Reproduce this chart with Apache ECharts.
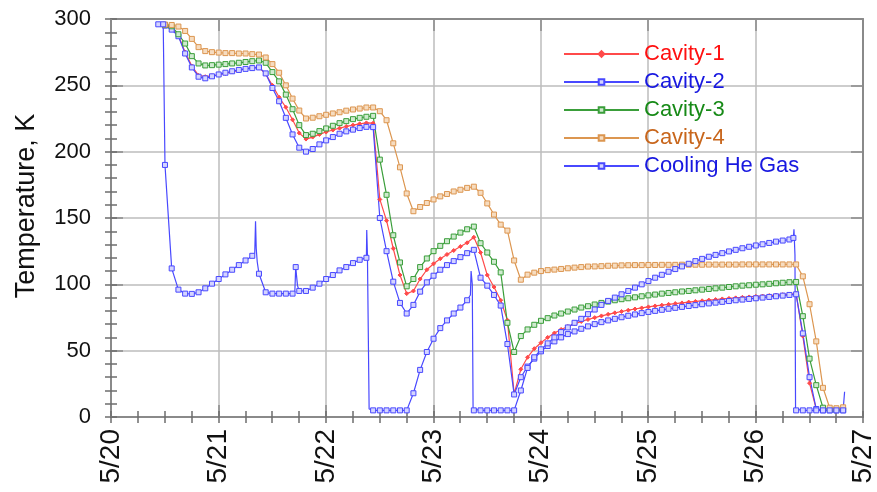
<!DOCTYPE html>
<html><head><meta charset="utf-8">
<script src="https://cdn.jsdelivr.net/npm/echarts@6/dist/echarts.min.js"></script>
<style>html,body{margin:0;padding:0;background:#fff}#c{width:877px;height:492px}</style>
</head><body><div id="c"></div>
<script>
// ---- data ----
const dayLabels = ['5/20','5/21','5/22','5/23','5/24','5/25','5/26','5/27'];
const seriesNames = ['Cavity-1','Cavity-2','Cavity-3','Cavity-4','Cooling He Gas'];
// logger samples every 1.5 h starting 5/20 ~10:30 (day offsets from 5/20 00:00)
const sampleStartDay = 0.44;
const sampleStepDay = 0.0625;

const cavity1 = [null,295.5,293,287.5,275,264.5,257.5,256.5,257.2,258,259,260.2,261.3,262.5,263.3,263.5,
 258.5,250,241,233.5,224,214,209.5,211,213,214.8,216.3,217.7,219,220,221,221.7,221.5,
 164,148,127,107,93,95,104,111,115.5,119.3,122.5,125.5,128.5,131.3,135.5,
 124,107,98,88,73,17.5,36,45,51.5,56,60,63.3,66,68.2,70.2,72,73.5,74.9,76.2,77.4,78.5,79.5,80.5,
 81.4,82.2,83,83.7,84.3,84.9,85.5,86,86.6,87.1,87.6,88.1,88.5,89,89.4,89.8,90.2,90.5,90.9,91.2,
 91.5,91.9,92.2,92.6,93,61,25.5,6,5,5,5,5];

const cavity2 = [null,295,292,287,274,263.5,256.5,255.3,256.8,258.2,259.5,260.6,261.6,262.4,263,263.5,
 259,248,238,225.5,213,203,200,202,205.5,208.5,211,213.5,215.3,216.6,217.8,218.7,218.5,
 150,125,102,86,78,84.5,94.5,101.5,106.5,111,114.5,117.5,120.5,123.5,126,
 105,99,92,84,55,17,30,38,44,49.5,53.5,57,60,62.5,64.5,66.5,68.3,70,71.5,72.8,74,75.2,76.3,
 77.3,78.3,79.2,80,80.8,81.6,82.3,83,83.7,84.3,85,85.6,86.2,86.8,87.4,88,88.5,89,89.5,90,
 90.5,91,91.5,92,92.5,63,30,6,5,5,5,5];

const cavity3 = [null,295.5,294.5,288.5,281.5,272,266.5,265,265.2,265.6,266,266.5,267,267.6,268.2,268.7,
 267,260,253,243,232,220,212.5,213.5,215.5,217.5,219.5,221.5,223,224.5,225.5,226.3,227,
 194,167.5,137,116.5,98.5,104,113,119.5,125,129,132.5,136,139,141.5,143.5,
 131,124,117,109,71,49,61,66,69.5,72.5,74.5,76.5,78,79.5,81,82.5,83.5,84.8,86,87,88,88.8,89.5,
 90.2,91,91.7,92.3,93,93.5,94,94.6,95,95.5,96,96.5,97,97.5,98,98.5,99,99.3,99.7,100,
 100.4,100.8,101.2,101.6,101.8,76,44,24,7,5.5,5.5,5.5];

const cavity4 = [null,295.8,295.5,294.3,291,285,278.8,275.8,275,274.7,274.3,274.3,274,274,273.5,273.2,
 271,266,259.5,250,240,231,225,225.6,226.7,227.8,228.8,229.7,230.9,231.8,232.5,233.3,233.3,
 230.5,223.7,206.3,188.2,168.5,155.1,158.3,161.3,164,166.3,168.1,170,171.3,172.7,173.6,
 169,161,152.6,145,140.5,118,103.5,107.3,108.8,110,110.7,111.1,111.6,112.1,112.6,113,113.4,113.5,113.7,114,114.1,114.3,
 114.4,114.5,114.5,114.6,114.6,114.7,114.7,114.7,114.8,114.8,114.8,114.8,114.9,114.9,114.9,114.9,114.9,115,
 115,115,115,115,115,115,115,115,106,85,57,22,7,6.6,7.3];

const coolingGas = [296,190,112,96,93,92.8,94,97,100.5,104,107.5,111,114.5,118,121.5,108,
 94,93,93,93,93,95,95,97.5,100.5,104,107,110.5,113,116,118.5,120,
 5,5,5,5,5,5,17.9,35.5,49,59,67,72.8,78,82.5,88,
 5,5,5,5,5,5,5,20,37,45,51,55.5,60,64,67.5,71,74,77.5,81,84.5,87.5,90,92.5,95,97.5,100,
 102.5,105,107.2,109.5,111.5,113.5,115.5,117.5,119.2,120.8,122.2,123.5,124.8,126,127.2,128.3,129.3,130.2,
 131.2,132.2,133,133.8,5,5,5,5,5,5,5,5];

// fast transients of the cooling gas between logged samples
const gasExtraDays   = [0.4861,1.3380,1.3454,1.3519,1.3611,1.7111,1.7194,1.7361,2.3806,2.3870,2.4028,3.3454,3.3519,3.3630,3.3704,6.3519,6.3574,6.3667,6.3722,6.8287];
const gasExtraTemps  = [296,123.5,147.6,127,117,94,113,99,141,122,6,92,110,100,6,135,141.5,122,6,19];
const gasExtraMarked = [1,0,0,0,0,0,1,0,0,0,0,0,0,0,0,1,0,0,0,0];

// ---- build ----
function sampleSeries(vals){
  const out=[];
  vals.forEach((v,i)=>{ if(v!==null) out.push([sampleStartDay+sampleStepDay*i, v]); });
  return out;
}
function gasSeries(){
  const pts = sampleSeries(coolingGas).map(p=>({value:p}));
  gasExtraDays.forEach((d,k)=>{
    const it={value:[d,gasExtraTemps[k]]};
    if(!gasExtraMarked[k]) it.symbol='none';
    pts.push(it);
  });
  pts.sort((a,b)=>a.value[0]-b.value[0]);
  return pts;
}

const FONT = '"Liberation Sans", Arial, sans-serif';
const lineCol = ['#ff4a4a','#4848ff','#3a9e3a','#dc9650','#4848ff'];
const fillCol = ['#ff4a4a','#d4d4ff','#cfeacf','#f6dcc0','#d4d4ff'];
const textCol = ['#ff1010','#1818e0','#178a17','#c8661c','#1818e0'];

function mk(name, data, idx, symbol, size){
  return {
    name, type:'line', data, xAxisIndex:0, yAxisIndex:0,
    showSymbol:true, symbol, symbolSize:size,
    lineStyle:{color:lineCol[idx], width:1.2},
    itemStyle:{color:fillCol[idx], borderColor:lineCol[idx], borderWidth:1},
    emphasis:{disabled:true}, animation:false
  };
}

const chart = echarts.init(document.getElementById('c'), null, {renderer:'canvas'});
const axCol = '#8a8a8a';
const majorTick = {show:true, inside:true, length:12, lineStyle:{color:axCol, width:1.5}};
const minorTick = {show:true, inside:true, length:6, lineStyle:{color:'#6e6e6e', width:1.5}};
const lineOn = {show:true, onZero:false, lineStyle:{color:axCol, width:2}};
const off = {show:false};
function tickAxisX(pos, interval, tick, withLine){
  return {type:'value', min:0, max:7, interval, position:pos, axisLine: withLine?lineOn:off,
    axisTick:tick, splitLine:off, axisLabel:off};
}
function tickAxisY(pos, interval, tick, withLine){
  return {type:'value', min:0, max:300, interval, position:pos, axisLine: withLine?lineOn:off,
    axisTick:tick, splitLine:off, axisLabel:off};
}
chart.setOption({
  animation:false,
  backgroundColor:'#fff',
  grid:{left:111, right:10, top:19, bottom:75, containLabel:false},
  xAxis:[
    {type:'value', min:0, max:7, interval:1, position:'bottom',
     axisLine:lineOn, axisTick:majorTick,
     splitLine:{show:true, lineStyle:{color:'#bdbdbd', width:1.5}},
     axisLabel:{rotate:90, fontSize:28, margin:12, color:'#111', fontFamily:FONT,
       formatter:v=>dayLabels[Math.round(v)]}},
    tickAxisX('top', 1, majorTick, true),
    tickAxisX('bottom', 0.25, minorTick, false),
    tickAxisX('top', 0.25, minorTick, false)
  ],
  yAxis:[
    {type:'value', min:0, max:300, interval:50, position:'left',
     axisLine:lineOn, axisTick:majorTick,
     splitLine:{show:true, lineStyle:{color:'#bdbdbd', width:1.5}},
     axisLabel:{fontSize:22, margin:20, color:'#111', fontFamily:FONT}},
    tickAxisY('right', 50, majorTick, true),
    tickAxisY('left', 10, minorTick, false),
    tickAxisY('right', 10, minorTick, false)
  ],
  legend:{
    orient:'vertical', left:563, top:43, padding:0, itemGap:6,
    itemWidth:75, itemHeight:7,
    textStyle:{fontSize:22, fontFamily:FONT},
    data: seriesNames.map((n,i)=>({name:n, textStyle:{color:textCol[i]}}))
  },
  graphic:[{type:'text', x:27, y:206, rotation:Math.PI/2,
    style:{text:'Temperature, K', font:'27px '+FONT, fill:'#111',
      align:'center', verticalAlign:'middle', textAlign:'center', textVerticalAlign:'middle'}}],
  series:[
    mk(seriesNames[0], sampleSeries(cavity1), 0, 'diamond', 4),
    mk(seriesNames[1], sampleSeries(cavity2), 1, 'rect', 5),
    mk(seriesNames[2], sampleSeries(cavity3), 2, 'rect', 5),
    mk(seriesNames[3], sampleSeries(cavity4), 3, 'rect', 5),
    mk(seriesNames[4], gasSeries(), 4, 'rect', 5)
  ]
});
</script></body></html>
